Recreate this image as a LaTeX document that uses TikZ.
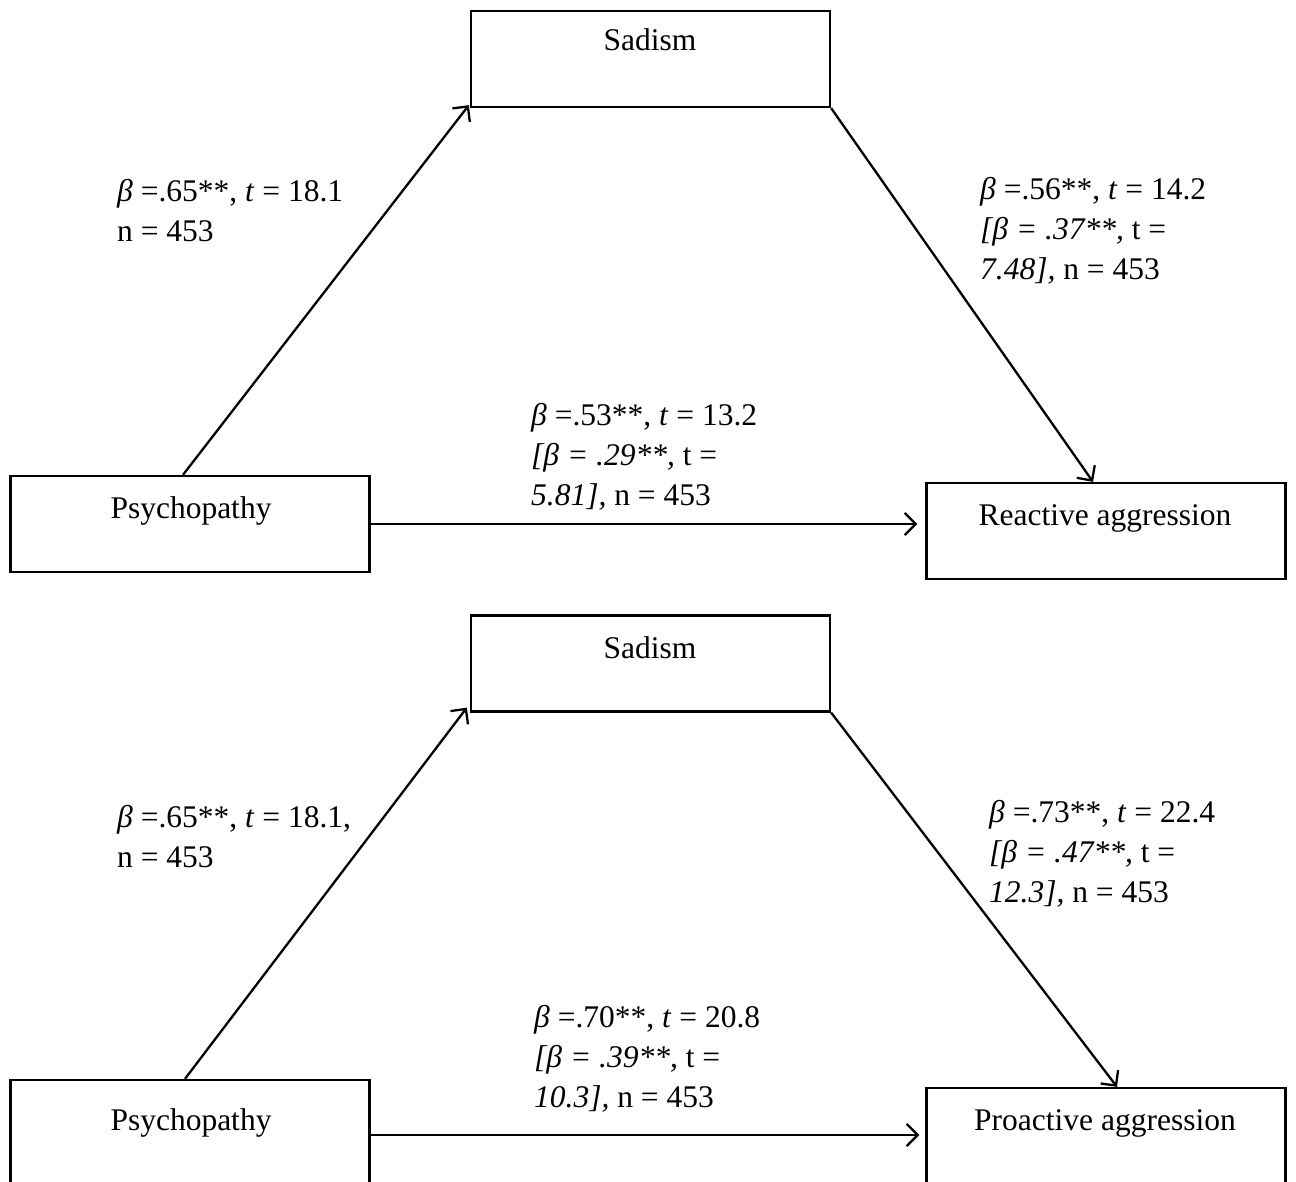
\documentclass[tikz,border=0pt]{standalone}
\usepackage{fontspec}
\setmainfont{Liberation Serif}
\usetikzlibrary{arrows.meta}
\begin{document}
\begin{tikzpicture}[x=1pt,y=-1pt,
  box/.style={draw, line width=2.3pt, minimum width=359pt, inner sep=0pt},
  conn/.style={draw, line width=2.3pt, -{Straight Barb[length=11pt,width=22pt,line width=2.3pt]}},
  txt/.style={anchor=base, inner sep=0pt, font=\fontsize{31.5}{40}\selectfont},
  lbl/.style={anchor=base west, align=left, inner sep=0pt, font=\fontsize{31.5}{40}\selectfont}]
\clip (0,0) rectangle (1296,1182);
% ---------- top diagram ----------
\node[box, minimum height=96pt] (sad) at (650.5,59) {};
\node[box, minimum height=96pt] (psy) at (190,524) {};
\node[box, minimum height=96pt] (react) at (1106,531) {};
\node[txt] (sadt) at (650,51) {Sadism};
\node[txt] (psyt) at (191,518) {Psychopathy};
\node[txt] (reactt) at (1105,525) {Reactive aggression};
\draw[conn] ([xshift=-7pt]psy.north) -- ([shift={(-1,-3)}]sad.south west);
\draw[conn] (sad.south east) -- ([xshift=-13pt]react.north);
\draw[conn] (psy.east) -- ([xshift=-8pt]psy.east -| react.west);
\node[lbl] (l1) at (117,242) {\textit{β} =.65**, \textit{t} = 18.1\\n = 453};
\node[lbl] (l2) at (980,280) {\textit{β} =.56**, \textit{t} = 14.2\\\textit{[β = .37**,} t =\\\textit{7.48],} n = 453};
\node[lbl] (l3) at (531,505) {\textit{β} =.53**, \textit{t} = 13.2\\\textit{[β = .29**,} t =\\\textit{5.81],} n = 453};
% ---------- bottom diagram ----------
\node[box, minimum height=96pt] (sadb) at (650.5,663.5) {};
\node[box, minimum height=110pt] (psyb) at (190,1135) {};
\node[box, minimum height=110pt] (pro) at (1106,1143) {};
\node[txt] (sadbt) at (650,658) {Sadism};
\node[txt] (psybt) at (191,1130) {Psychopathy};
\node[txt] (prot) at (1105,1130) {Proactive aggression};
\draw[conn] ([xshift=-5pt]psyb.north) -- ([shift={(-3,-5)}]sadb.south west);
\draw[conn] (sadb.south east) -- ([xshift=11pt]pro.north);
\draw[conn] (psyb.east) -- ([xshift=-6pt]psyb.east -| pro.west);
\node[lbl] (l4) at (117,867) {\textit{β} =.65**, \textit{t} = 18.1,\\n = 453};
\node[lbl] (l5) at (989,902) {\textit{β} =.73**, \textit{t} = 22.4\\\textit{[β = .47**,} t =\\\textit{12.3],} n = 453};
\node[lbl] (l6) at (534,1107) {\textit{β} =.70**, \textit{t} = 20.8\\\textit{[β = .39**,} t =\\\textit{10.3],} n = 453};
\end{tikzpicture}
\end{document}
